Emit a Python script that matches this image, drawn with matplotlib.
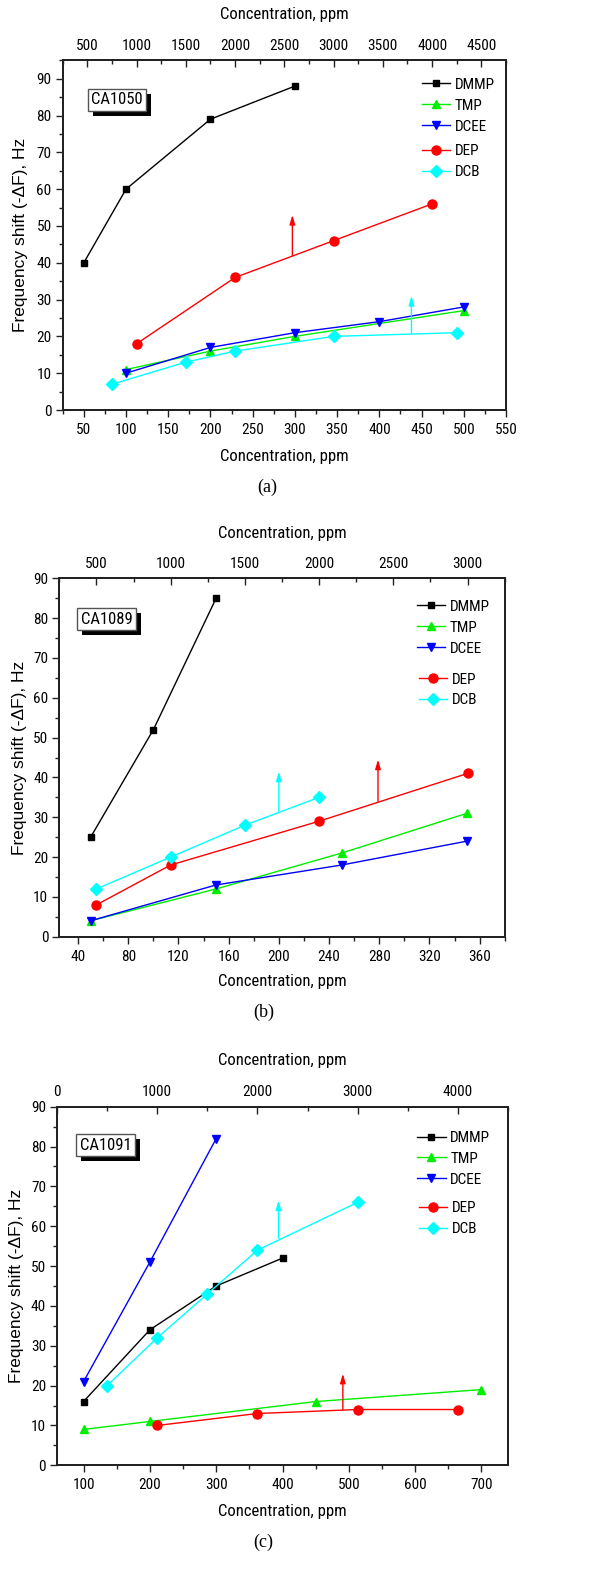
import matplotlib
matplotlib.use("Agg")
import matplotlib.pyplot as plt
from matplotlib import font_manager
from matplotlib.ticker import MultipleLocator
import matplotlib.patheffects as pe

# ---- data -------------------------------------------------------------
series_names = ["DMMP", "TMP", "DCEE", "DEP", "DCB"]
series_colors = ["#000000", "#00ee00", "#0000ff", "#ff0000", "#00ffff"]
series_markers = ["s", "^", "v", "o", "D"]
series_msizes = [5, 6, 6, 6.5, 6]

# CA1050  (DMMP/TMP/DCEE on the bottom axis, DEP/DCB on the top axis)
a_dmmp_x = [50, 100, 200, 300]
a_dmmp_y = [40, 60, 79, 88]
a_tmp_x = [100, 200, 300, 500]
a_tmp_y = [11, 16, 20, 27]
a_dcee_x = [100, 200, 300, 400, 500]
a_dcee_y = [10, 17, 21, 24, 28]
a_dep_x = [1000, 2000, 3000, 4000]
a_dep_y = [18, 36, 46, 56]
a_dcb_x = [750, 1500, 2000, 3000, 4250]
a_dcb_y = [7, 13, 16, 20, 21]

# CA1089
b_dmmp_x = [50, 100, 150]
b_dmmp_y = [25, 52, 85]
b_tmp_x = [50, 150, 250, 350]
b_tmp_y = [4, 12, 21, 31]
b_dcee_x = [50, 150, 250, 350]
b_dcee_y = [4, 13, 18, 24]
b_dep_x = [500, 1000, 2000, 3000]
b_dep_y = [8, 18, 29, 41]
b_dcb_x = [500, 1000, 1500, 2000]
b_dcb_y = [12, 20, 28, 35]

# CA1091
c_dmmp_x = [100, 200, 300, 400]
c_dmmp_y = [16, 34, 45, 52]
c_tmp_x = [100, 200, 450, 700]
c_tmp_y = [9, 11, 16, 19]
c_dcee_x = [100, 200, 300]
c_dcee_y = [21, 51, 82]
c_dep_x = [1000, 2000, 3000, 4000]
c_dep_y = [10, 13, 14, 14]
c_dcb_x = [500, 1000, 1500, 2000, 3000]
c_dcb_y = [20, 32, 43, 54, 66]

# arrows marking which curves belong to the top axis (bottom-axis x, y from, y to)
a_arrows = [(297, 42, 53, "#ff0000"), (438, 21, 31, "#00ffff")]
b_arrows = [(200, 31.5, 41.5, "#00ffff"), (279, 34, 44.5, "#ff0000")]
c_arrows = [(394, 57, 66.5, "#00ffff"), (491, 14, 23, "#ff0000")]

# ---- fonts ------------------------------------------------------------
installed = {f.name for f in font_manager.fontManager.ttflist}
narrow = "Liberation Sans"
for cand in ["Liberation Sans Narrow", "Arial Narrow", "Roboto Condensed",
             "Archivo Narrow", "PT Sans Narrow"]:
    if cand in installed:
        narrow = cand
        break
plt.rcParams["font.family"] = [narrow, "DejaVu Sans"]
plt.rcParams["font.size"] = 10

W, H = 608, 1574
fig = plt.figure(figsize=(W / 100, H / 100), dpi=100)
fig.patch.set_facecolor("white")

SPINE = "#222222"


def px_rect(left, top, right, bottom):
    return [left / W, 1 - bottom / H, (right - left) / W, (bottom - top) / H]


def draw_panel(rect, label, bottom_data, top_data, xlim, xmaj, xmin,
               tlim, tmaj, tmin, ylim, arrows, box_xy, leg1_xy, leg2_xy,
               ylab_x, xlab_y, tlab_y, caption_xy, caption):
    ax = fig.add_axes(px_rect(*rect))
    ax2 = ax.twiny()
    ax.set_xlim(*xlim)
    ax.set_ylim(*ylim)
    ax2.set_xlim(*tlim)

    lines = []
    for (xs, ys), i in zip(bottom_data, range(3)):
        ln, = ax.plot(xs, ys, color=series_colors[i], marker=series_markers[i],
                      ms=series_msizes[i], lw=1.0, mec=series_colors[i])
        lines.append(ln)
    for (xs, ys), i in zip(top_data, range(3, 5)):
        ln, = ax2.plot(xs, ys, color=series_colors[i], marker=series_markers[i],
                       ms=series_msizes[i], lw=1.0, mec=series_colors[i])
        lines.append(ln)

    for x, y0, y1, col in arrows:
        ax.annotate("", xy=(x, y1), xytext=(x, y0),
                    arrowprops=dict(arrowstyle="-|>,head_length=0.55,head_width=0.16",
                                    color=col, lw=1.0, shrinkA=0, shrinkB=0))

    # ticks
    ax.xaxis.set_major_locator(MultipleLocator(xmaj))
    ax.xaxis.set_minor_locator(MultipleLocator(xmin))
    ax.yaxis.set_major_locator(MultipleLocator(10))
    ax.yaxis.set_minor_locator(MultipleLocator(5))
    ax2.xaxis.set_major_locator(MultipleLocator(tmaj))
    ax2.xaxis.set_minor_locator(MultipleLocator(tmin))
    ax.tick_params(axis="both", which="major", direction="out", length=5,
                   width=1.0, color=SPINE, labelsize=11, top=False, right=False)
    ax.tick_params(axis="x", which="major", pad=4.5)
    ax.tick_params(axis="y", which="major", pad=3)
    ax.tick_params(axis="both", which="minor", direction="out", length=3,
                   width=1.0, color=SPINE, top=False, right=False)
    ax2.tick_params(axis="x", which="major", direction="in", length=5, width=1.0,
                    color=SPINE, labelsize=11, pad=5.5, top=True, bottom=False)
    ax2.tick_params(axis="x", which="minor", direction="in", length=3, width=1.0,
                    color=SPINE, top=True, bottom=False)
    for a in (ax, ax2):
        for s in a.spines.values():
            s.set_linewidth(1.4)
            s.set_color(SPINE)

    # labels
    ax.set_xlabel("Concentration, ppm", fontsize=12)
    ax2.set_xlabel("Concentration, ppm", fontsize=12)
    ax.set_ylabel("Frequency shift (-\u0394F), Hz", fontsize=12.5,
                  family=["Liberation Sans", "DejaVu Sans"])
    ax.xaxis.set_label_coords(0.5, xlab_y)
    ax.xaxis.label.set_va("center")
    ax2.xaxis.set_label_coords(0.5, tlab_y)
    ax2.xaxis.label.set_va("center")
    ax.yaxis.set_label_coords(ylab_x, 0.5)
    ax.yaxis.label.set_va("center")

    # sample name box with drop shadow
    t = ax.text(box_xy[0], box_xy[1], label, transform=ax.transAxes,
                ha="center", va="center", fontsize=12,
                bbox=dict(boxstyle="square,pad=0.22", fc="white", ec="#555555", lw=1.0),
                zorder=5)
    t.get_bbox_patch().set_path_effects(
        [pe.withSimplePatchShadow(offset=(3.6, -3.6), shadow_rgbFace="black", alpha=1.0)])

    common = dict(loc="upper left", frameon=False, borderpad=0, borderaxespad=0,
                  handlelength=1.85, handletextpad=0.3, labelspacing=0.45,
                  fontsize=11)
    leg1 = ax.legend(handles=lines[:3], labels=series_names[:3],
                     bbox_to_anchor=leg1_xy, **common)
    ax.add_artist(leg1)
    ax.legend(handles=lines[3:], labels=series_names[3:],
              bbox_to_anchor=leg2_xy, **common)

    fig.text(caption_xy[0] / W, 1 - caption_xy[1] / H, caption, ha="center",
             va="center", fontsize=13, family=["Liberation Serif", "DejaVu Serif"])


draw_panel((62.7, 60.3, 506, 410), "CA1050",
           [(a_dmmp_x, a_dmmp_y), (a_tmp_x, a_tmp_y), (a_dcee_x, a_dcee_y)],
           [(a_dep_x, a_dep_y), (a_dcb_x, a_dcb_y)],
           (25, 550), 50, 25, (250, 4750), 500, 250, (0, 95), a_arrows,
           (0.1225, 0.8865), (0.8105, 0.950), (0.8105, 0.760),
           -0.0963, -0.134, 1.13, (267, 487), "(a)")

draw_panel((59.3, 578.3, 504.7, 936.7), "CA1089",
           [(b_dmmp_x, b_dmmp_y), (b_tmp_x, b_tmp_y), (b_dcee_x, b_dcee_y)],
           [(b_dep_x, b_dep_y), (b_dcb_x, b_dcb_y)],
           (25, 380), 40, 20, (250, 3250), 500, 250, (0, 90), b_arrows,
           (0.107, 0.8864), (0.8030, 0.940), (0.8070, 0.737),
           -0.0898, -0.126, 1.126, (264, 1012), "(b)")

draw_panel((57, 1106.7, 508, 1465.3), "CA1091",
           [(c_dmmp_x, c_dmmp_y), (c_tmp_x, c_tmp_y), (c_dcee_x, c_dcee_y)],
           [(c_dep_x, c_dep_y), (c_dcb_x, c_dcb_y)],
           (60, 740), 100, 50, (0, 4500), 1000, 500, (0, 90), c_arrows,
           (0.1075, 0.893), (0.7990, 0.9325), (0.8020, 0.737),
           -0.0909, -0.128, 1.128, (263, 1542), "(c)")

fig.savefig("out.png", dpi=100, facecolor="white")
